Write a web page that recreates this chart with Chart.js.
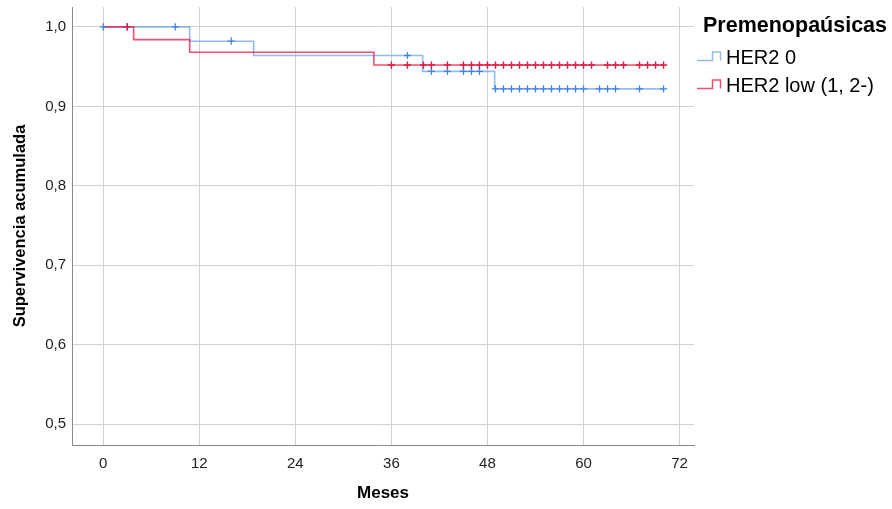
<!DOCTYPE html>
<html>
<head>
<meta charset="utf-8">
<script src="https://cdn.jsdelivr.net/npm/chart.js@4.4.1/dist/chart.umd.min.js"></script>
<style>
  html, body { margin: 0; padding: 0; background: #ffffff; }
  #wrap { width: 892px; height: 509px; position: relative; }
</style>
</head>
<body>
<div id="wrap"><canvas id="c" width="892" height="509"></canvas></div>
<script>
// ---- Data ----
const legendTitle = 'Premenopaúsicas';
const seriesNames = ['HER2 0', 'HER2 low (1, 2-)'];

// Kaplan-Meier step points: time (months) and cumulative survival after the step
const her20Times = [0, 10.8, 18.8, 39.9, 48.9, 70];
const her20Surv  = [1.0, 0.982, 0.964, 0.944, 0.922, 0.922];
const lowTimes   = [0, 3.8, 10.8, 33.8, 70];
const lowSurv    = [1.0, 0.984, 0.968, 0.952, 0.952];

// Censored observations (months)
const her20Censored = [0, 3, 9, 16, 38, 41, 43, 45, 46, 47, 49, 50, 51, 52, 53, 54, 55, 56, 57, 58, 59, 60, 62, 63, 64, 67, 70];
const lowCensored   = [3, 36, 38, 40, 41, 43, 45, 46, 47, 48, 49, 50, 51, 52, 53, 54, 55, 56, 57, 58, 59, 60, 61, 63, 64, 65, 67, 68, 69, 70];

// Axis ticks
const xTickValues = [0, 12, 24, 36, 48, 60, 72];
const yTickValues = [0.5, 0.6, 0.7, 0.8, 0.9, 1.0];

// ---- helpers ----
function stepPoints(times, surv) {
  return times.map((t, i) => ({ x: t, y: surv[i] }));
}
function survivalAt(times, surv, t) {
  let s = surv[0];
  for (let i = 0; i < times.length; i++) { if (times[i] <= t) s = surv[i]; }
  return s;
}
function censorPoints(cens, times, surv) {
  return cens.map(t => ({ x: t, y: survivalAt(times, surv, t) }));
}

const FONT = '"Liberation Sans", Arial, Helvetica, sans-serif';
const blueLine = 'rgba(110,165,235,0.75)';
const blueMark = '#3f86df';
const redLine  = 'rgba(238,30,70,0.78)';
const redMark  = '#e3173f';

const legendPlugin = {
  id: 'kmLegend',
  afterDraw(chart) {
    const ctx = chart.ctx;
    ctx.save();
    ctx.fillStyle = '#000';
    ctx.textBaseline = 'middle';
    ctx.textAlign = 'left';
    ctx.font = 'bold 21.5px ' + FONT;
    ctx.fillText(legendTitle, 703, 26);
    const items = [
      { name: seriesNames[0], color: blueLine, y: 57 },
      { name: seriesNames[1], color: redLine, y: 85 }
    ];
    ctx.font = '20px ' + FONT;
    items.forEach(it => {
      ctx.strokeStyle = it.color;
      ctx.lineWidth = 1.5;
      ctx.beginPath();
      ctx.moveTo(697, it.y + 3.5);
      ctx.lineTo(712.5, it.y + 3.5);
      ctx.lineTo(712.5, it.y - 5);
      ctx.lineTo(720.5, it.y - 5);
      ctx.lineTo(720.5, it.y + 3.5);
      ctx.stroke();
      ctx.fillStyle = '#000';
      ctx.fillText(it.name, 726, it.y + 1);
    });
    ctx.restore();
  }
};

new Chart(document.getElementById('c'), {
  type: 'scatter',
  data: {
    datasets: [
      {
        label: seriesNames[0],
        data: stepPoints(her20Times, her20Surv),
        showLine: true,
        stepped: 'before',
        borderColor: blueLine,
        borderWidth: 1.6,
        pointRadius: 0,
        fill: false,
        order: 4
      },
      {
        label: seriesNames[1],
        data: stepPoints(lowTimes, lowSurv),
        showLine: true,
        stepped: 'before',
        borderColor: redLine,
        borderWidth: 1.6,
        pointRadius: 0,
        fill: false,
        order: 3
      },
      {
        label: seriesNames[0] + ' censurado',
        data: censorPoints(her20Censored, her20Times, her20Surv),
        showLine: false,
        pointStyle: 'cross',
        pointRadius: 3.6,
        pointBorderWidth: 1.3,
        borderColor: blueMark,
        backgroundColor: blueMark,
        order: 2
      },
      {
        label: seriesNames[1] + ' censurado',
        data: censorPoints(lowCensored, lowTimes, lowSurv),
        showLine: false,
        pointStyle: 'cross',
        pointRadius: 3.6,
        pointBorderWidth: 1.4,
        borderColor: redMark,
        backgroundColor: redMark,
        order: 1
      }
    ]
  },
  options: {
    responsive: false,
    animation: false,
    events: [],
    layout: { padding: { top: 7, right: 198, left: 0, bottom: 0 } },
    plugins: {
      legend: { display: false },
      tooltip: { enabled: false }
    },
    scales: {
      x: {
        type: 'linear',
        min: -3.9,
        max: 73.8,
        afterBuildTicks: s => { s.ticks = xTickValues.map(v => ({ value: v })); },
        afterFit: s => { s.height = 64; s.paddingLeft = 0; s.paddingRight = 0; },
        grid: { color: '#d2d2d2', lineWidth: 1, drawTicks: false },
        border: { display: true, color: '#8a8a8a', width: 1 },
        ticks: {
          padding: 10,
          color: '#222',
          font: { family: FONT, size: 15 },
          callback: v => String(v)
        },
        title: {
          display: true,
          text: 'Meses',
          color: '#000',
          font: { family: FONT, size: 17, weight: 'bold' },
          padding: { top: 0, bottom: 5 }
        }
      },
      y: {
        type: 'linear',
        min: 0.474,
        max: 1.025,
        afterBuildTicks: s => { s.ticks = yTickValues.map(v => ({ value: v })); },
        afterFit: s => { s.width = 72; s.paddingTop = 0; s.paddingBottom = 0; },
        grid: { color: '#d2d2d2', lineWidth: 1, drawTicks: false },
        border: { display: true, color: '#8a8a8a', width: 1 },
        ticks: {
          padding: 6,
          color: '#222',
          font: { family: FONT, size: 15 },
          callback: v => Number(v).toFixed(1).replace('.', ',')
        },
        title: {
          display: true,
          text: 'Supervivencia acumulada',
          color: '#000',
          font: { family: FONT, size: 16.5, weight: 'bold' },
          padding: { top: 11, bottom: 0 }
        }
      }
    }
  },
  plugins: [legendPlugin]
});
</script>
</body>
</html>
